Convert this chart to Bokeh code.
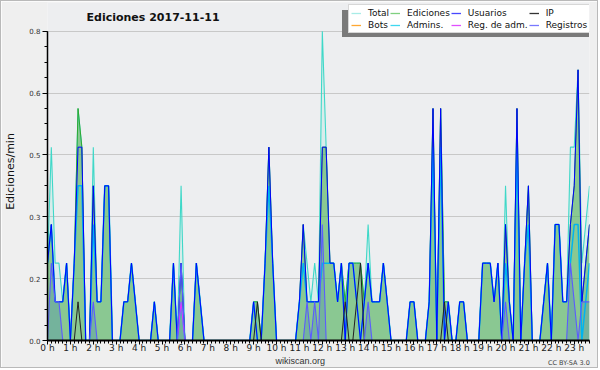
from bokeh.plotting import figure
from bokeh.models import (FixedTicker, Legend, LegendItem, Label, ColumnDataSource,
                          LinearAxis)
from bokeh.embed import file_html
from bokeh.resources import INLINE

# 10-minute slots of the day (index 0 = 00:00)
slots = list(range(143))
hour_ticks = [0, 6, 12, 18, 24, 30, 36, 42, 48, 54, 60, 66, 72, 78, 84, 90,
              96, 102, 108, 114, 120, 126, 132, 138]
hour_labels = ["0 h", "1 h", "2 h", "3 h", "4 h", "5 h", "6 h", "7 h", "8 h",
               "9 h", "10 h", "11 h", "12 h", "13 h", "14 h", "15 h", "16 h",
               "17 h", "18 h", "19 h", "20 h", "21 h", "22 h", "23 h"]
y_ticks = [0.0, 0.16, 0.32, 0.48, 0.64, 0.8]
y_labels = ["0.0", "0.2", "0.3", "0.5", "0.6", "0.8"]

total = [0.2, 0.5, 0.2, 0.2, 0.1, 0.2, 0, 0.2, 0.6, 0.5, 0, 0,
         0.5, 0.1, 0.1, 0.4, 0.4, 0, 0, 0, 0.1, 0.1, 0.2, 0.1,
         0, 0, 0, 0, 0.1, 0, 0, 0, 0, 0.2, 0, 0.4,
         0, 0, 0, 0.2, 0.1, 0, 0, 0, 0, 0, 0, 0,
         0, 0, 0, 0, 0, 0, 0.1, 0.1, 0, 0.2, 0.5, 0.2,
         0, 0, 0, 0, 0, 0, 0.1, 0.3, 0.2, 0.1, 0.2, 0.1,
         0.8, 0.5, 0.2, 0.2, 0.1, 0.2, 0.1, 0.2, 0.2, 0.2, 0.2, 0.1,
         0.3, 0.1, 0.1, 0.1, 0.2, 0.1, 0, 0, 0, 0, 0, 0.1,
         0.1, 0, 0, 0, 0.1, 0.6, 0, 0.6, 0.1, 0.1, 0, 0,
         0.1, 0.1, 0, 0, 0, 0, 0.2, 0.2, 0.2, 0.1, 0.2, 0,
         0.4, 0.1, 0, 0.6, 0, 0.2, 0.4, 0, 0, 0, 0.1, 0.2,
         0, 0.3, 0.3, 0.1, 0.1, 0.5, 0.5, 0.7, 0.2, 0.3, 0.4]
ediciones = [0.2, 0.3, 0.1, 0.1, 0.1, 0.2, 0, 0.2, 0.6, 0.5, 0, 0,
             0.4, 0.1, 0.1, 0.4, 0.4, 0, 0, 0, 0.1, 0.1, 0.2, 0.1,
             0, 0, 0, 0, 0.1, 0, 0, 0, 0, 0.2, 0, 0.2,
             0, 0, 0, 0.2, 0.1, 0, 0, 0, 0, 0, 0, 0,
             0, 0, 0, 0, 0, 0, 0.1, 0.1, 0, 0.2, 0.5, 0.2,
             0, 0, 0, 0, 0, 0, 0.1, 0.3, 0.1, 0.1, 0.1, 0.1,
             0.5, 0.5, 0.2, 0.2, 0.1, 0.2, 0.1, 0.2, 0.2, 0.2, 0.2, 0.1,
             0.2, 0.1, 0.1, 0.1, 0.2, 0.1, 0, 0, 0, 0, 0, 0.1,
             0.1, 0, 0, 0, 0.1, 0.6, 0, 0.6, 0.1, 0.1, 0, 0,
             0.1, 0.1, 0, 0, 0, 0, 0.2, 0.2, 0.2, 0.1, 0.2, 0,
             0.3, 0.1, 0, 0.6, 0, 0.2, 0.4, 0, 0, 0, 0.1, 0.2,
             0, 0.3, 0.3, 0.1, 0.1, 0.3, 0.4, 0.7, 0.1, 0.2, 0.3]
usuarios = [0.2, 0.3, 0.1, 0.1, 0.1, 0.2, 0, 0.2, 0.5, 0.5, 0, 0,
            0.4, 0.1, 0.1, 0.4, 0.4, 0, 0, 0, 0.1, 0.1, 0.2, 0.1,
            0, 0, 0, 0, 0.1, 0, 0, 0, 0, 0.2, 0, 0.2,
            0, 0, 0, 0.2, 0.1, 0, 0, 0, 0, 0, 0, 0,
            0, 0, 0, 0, 0, 0, 0.1, 0, 0, 0.2, 0.5, 0.2,
            0, 0, 0, 0, 0, 0, 0.1, 0.3, 0.1, 0.1, 0.1, 0.1,
            0.5, 0.5, 0.2, 0.2, 0.1, 0.2, 0, 0.2, 0.2, 0.1, 0, 0.1,
            0.2, 0.1, 0.1, 0.1, 0.2, 0.1, 0, 0, 0, 0, 0, 0.1,
            0.1, 0, 0, 0, 0.1, 0.6, 0, 0.6, 0, 0.1, 0, 0,
            0.1, 0.1, 0, 0, 0, 0, 0.2, 0.2, 0.2, 0.1, 0.2, 0,
            0.3, 0.1, 0, 0.6, 0, 0.2, 0.4, 0, 0, 0, 0.1, 0.2,
            0, 0.3, 0.3, 0.1, 0.1, 0.3, 0.4, 0.7, 0.1, 0.2, 0.3]
ip = [0, 0, 0, 0, 0, 0, 0, 0, 0.1, 0, 0, 0,
      0, 0, 0, 0, 0, 0, 0, 0, 0, 0, 0, 0,
      0, 0, 0, 0, 0, 0, 0, 0, 0, 0, 0, 0,
      0, 0, 0, 0, 0, 0, 0, 0, 0, 0, 0, 0,
      0, 0, 0, 0, 0, 0, 0, 0.1, 0, 0, 0, 0,
      0, 0, 0, 0, 0, 0, 0, 0, 0, 0, 0, 0,
      0, 0, 0, 0, 0, 0, 0.1, 0, 0, 0.1, 0.2, 0,
      0, 0, 0, 0, 0, 0, 0, 0, 0, 0, 0, 0,
      0, 0, 0, 0, 0, 0, 0, 0, 0.1, 0, 0, 0,
      0, 0, 0, 0, 0, 0, 0, 0, 0, 0, 0, 0,
      0, 0, 0, 0, 0, 0, 0, 0, 0, 0, 0, 0,
      0, 0, 0, 0, 0, 0, 0, 0, 0, 0, 0]
bots = [0] * 143
admins = [0.2, 0.3, 0.1, 0.1, 0.1, 0.2, 0, 0.2, 0.4, 0.4, 0, 0,
          0.3, 0.1, 0.1, 0.4, 0.4, 0, 0, 0, 0.1, 0.1, 0.2, 0.1,
          0, 0, 0, 0, 0.1, 0, 0, 0, 0, 0.2, 0, 0.1,
          0, 0, 0, 0.2, 0.1, 0, 0, 0, 0, 0, 0, 0,
          0, 0, 0, 0, 0, 0, 0.1, 0, 0, 0.2, 0.4, 0.2,
          0, 0, 0, 0, 0, 0, 0.1, 0.2, 0.1, 0.1, 0.1, 0.1,
          0.2, 0.2, 0.2, 0.2, 0.1, 0.2, 0, 0.2, 0.2, 0.1, 0, 0.1,
          0.2, 0.1, 0.1, 0.1, 0.2, 0.1, 0, 0, 0, 0, 0, 0.1,
          0.1, 0, 0, 0, 0.1, 0.5, 0, 0.5, 0, 0.1, 0, 0,
          0.1, 0.1, 0, 0, 0, 0, 0.2, 0.2, 0.2, 0.1, 0.2, 0,
          0.2, 0.1, 0, 0.5, 0, 0.2, 0.3, 0, 0, 0, 0.1, 0.2,
          0, 0.3, 0.3, 0.1, 0.1, 0.2, 0.3, 0.3, 0, 0.1, 0.2]
reg_adm = [0, 0, 0, 0, 0, 0, 0, 0, 0, 0, 0, 0,
           0, 0, 0, 0, 0, 0, 0, 0, 0, 0, 0, 0,
           0, 0, 0, 0, 0, 0, 0, 0, 0, 0, 0, 0.1,
           0, 0, 0, 0, 0, 0, 0, 0, 0, 0, 0, 0,
           0, 0, 0, 0, 0, 0, 0, 0, 0, 0, 0, 0,
           0, 0, 0, 0, 0, 0, 0, 0, 0, 0, 0, 0,
           0, 0, 0, 0, 0, 0, 0, 0, 0, 0, 0, 0,
           0, 0, 0, 0, 0, 0, 0, 0, 0, 0, 0, 0,
           0, 0, 0, 0, 0, 0, 0, 0, 0, 0, 0, 0,
           0, 0, 0, 0, 0, 0, 0, 0, 0, 0, 0, 0,
           0, 0, 0, 0, 0, 0, 0, 0, 0, 0, 0, 0,
           0, 0, 0, 0, 0, 0, 0, 0, 0, 0, 0]
registros = [0, 0.2, 0.1, 0.1, 0, 0, 0, 0, 0, 0, 0, 0,
             0.1, 0, 0, 0, 0, 0, 0, 0, 0, 0, 0, 0,
             0, 0, 0, 0, 0, 0, 0, 0, 0, 0, 0, 0.2,
             0, 0, 0, 0, 0, 0, 0, 0, 0, 0, 0, 0,
             0, 0, 0, 0, 0, 0, 0, 0, 0, 0, 0, 0,
             0, 0, 0, 0, 0, 0, 0, 0, 0.1, 0, 0.1, 0,
             0.3, 0, 0, 0, 0, 0, 0, 0, 0, 0, 0, 0,
             0.1, 0, 0, 0, 0, 0, 0, 0, 0, 0, 0, 0,
             0, 0, 0, 0, 0, 0, 0, 0, 0, 0, 0, 0,
             0, 0, 0, 0, 0, 0, 0, 0, 0, 0, 0, 0,
             0.1, 0, 0, 0, 0, 0, 0, 0, 0, 0, 0, 0,
             0, 0, 0, 0, 0, 0.2, 0.1, 0, 0.1, 0.1, 0.1]

series_names = ["Total", "Ediciones", "Usuarios", "IP", "Bots", "Admins.",
                "Reg. de adm.", "Registros"]
credit_texts = ["wikiscan.org", "CC BY-SA 3.0"]

src = ColumnDataSource(dict(x=slots, total=total, ediciones=ediciones,
                            usuarios=usuarios, ip=ip, bots=bots,
                            admins=admins, reg_adm=reg_adm,
                            registros=registros))
# proxy source for the key samples (no visible points)
key_src = ColumnDataSource(dict(x=[0, 1], y=[float("nan"), float("nan")]))

FONT = "DejaVu Sans"
Y_TOP = 0.8 * 342 / 313   # frame extends above 0.8 to hold title and key

p = figure(width=598, height=368, x_range=(0, 142), y_range=(0, Y_TOP),
           output_backend="svg", toolbar_location=None,
           min_border_left=45, min_border_right=10,
           min_border_top=1, min_border_bottom=25)
p.styles = {"border": "1px solid #b9b9b9"}
p.background_fill_color = "#edeef0"
p.border_fill_color = "#efefef"
p.outline_line_color = None

# fills
p.varea(x="x", y1=0, y2="total", source=src, fill_color="#40e0d0", fill_alpha=0.12)
p.varea(x="x", y1=0, y2="ediciones", source=src, fill_color="#4aab49", fill_alpha=0.55)
p.varea(x="x", y1=0, y2="registros", source=src, fill_color="#4a8cb0", fill_alpha=0.35)

# lines
p.line("x", "total", source=src, line_color="#3fd8c8", line_width=1.1)
p.line("x", "ediciones", source=src, line_color="#2fa82f", line_width=1)
p.line("x", "admins", source=src, line_color="#00b4ee", line_width=1.5)
p.line("x", "usuarios", source=src, line_color="#0000ff", line_width=1.0)
p.line("x", "ip", source=src, line_color="#222222", line_width=1)
p.line("x", "bots", source=src, line_color="#ffa500", line_width=1)
p.line("x", "reg_adm", source=src, line_color="#dd33ff", line_width=1.1)
p.line("x", "registros", source=src, line_color="#5b5bff", line_width=1.1)

# axes
p.xgrid.visible = False
p.ygrid.ticker = FixedTicker(ticks=y_ticks)
p.ygrid.grid_line_color = "#c8c8c8"
p.ygrid.grid_line_width = 1

xa = p.xaxis[0]
xa.ticker = FixedTicker(ticks=hour_ticks, minor_ticks=slots)
xa.major_label_overrides = dict(zip(hour_ticks, hour_labels))
xa.axis_line_width = 2
xa.axis_line_color = "black"
xa.major_tick_in = 0
xa.major_tick_out = 4
xa.minor_tick_in = 0
xa.minor_tick_out = 3
xa.major_tick_line_color = "black"
xa.minor_tick_line_color = "black"
xa.major_label_text_font = FONT
xa.major_label_text_font_size = "9px"
xa.major_label_text_color = "#222222"
xa.major_label_standoff = -2

# credits row under the hour labels
credit_pos = [66.2, 136.6]
ca = LinearAxis(ticker=FixedTicker(ticks=[credit_pos[0]], minor_ticks=[]),
                major_label_overrides={credit_pos[0]: credit_texts[0]},
                axis_line_color=None, major_tick_line_color=None,
                minor_tick_line_color=None, major_tick_in=0, major_tick_out=0,
                minor_tick_in=0, minor_tick_out=0, major_label_standoff=0,
                major_label_text_font="Liberation Sans",
                major_label_text_font_size="9px",
                major_label_text_color="#333333")
p.add_layout(ca, "below")
cc = LinearAxis(ticker=FixedTicker(ticks=[credit_pos[1]], minor_ticks=[]),
                major_label_overrides={credit_pos[1]: credit_texts[1]},
                axis_line_color=None, major_tick_line_color=None,
                minor_tick_line_color=None, major_tick_in=0, major_tick_out=0,
                minor_tick_in=0, minor_tick_out=0, major_label_standoff=-10,
                major_label_text_font=FONT,
                major_label_text_font_size="6.5px",
                major_label_text_color="#444444")
p.add_layout(cc, "below")

ya = p.yaxis[0]
ya.ticker = FixedTicker(ticks=y_ticks, minor_ticks=[0.04 * k for k in range(21)])
ya.bounds = (0, 0.8)
ya.major_label_overrides = dict(zip(y_ticks, y_labels))
ya.axis_line_width = 1.5
ya.axis_line_color = "black"
ya.major_tick_in = 0
ya.major_tick_out = 5
ya.minor_tick_in = 0
ya.minor_tick_out = 3
ya.major_tick_line_color = "black"
ya.minor_tick_line_color = "black"
ya.major_label_text_font = FONT
ya.major_label_text_font_size = "7px"
ya.major_label_text_color = "#333333"
ya.major_label_standoff = 2
ya.axis_label = "Ediciones/min"
ya.axis_label_text_font = FONT
ya.axis_label_text_font_size = "11px"
ya.axis_label_text_font_style = "normal"
ya.axis_label_text_color = "#111111"
ya.axis_label_standoff = 9

# title (inside the extended frame)
p.add_layout(Label(x=39, y=323, x_units="screen", y_units="screen",
                   text="Ediciones  2017-11-11", text_font=FONT,
                   text_font_size="11px", text_font_style="bold",
                   text_color="#111111", text_baseline="alphabetic"))

# key with shadow
key_colors = ["#a8ece6", "#80d080", "#4848ff", "#333333", "#ffa833", "#40d8f0",
              "#e050ff", "#7878ff"]
items = []
for name, col in zip(series_names, key_colors):
    r = p.line("x", "y", source=key_src, line_color=col, line_width=1.3)
    items.append(LegendItem(label=name, renderers=[r]))

shadow_r = p.line("x", "y", source=key_src, line_alpha=0)
shadow = Legend(items=[LegendItem(label=" ", renderers=[shadow_r])],
                location=(295, 303), padding=0, margin=0, spacing=0,
                glyph_width=1, glyph_height=27, label_standoff=0,
                label_width=248, label_height=27,
                background_fill_color="#7a7a7a", background_fill_alpha=1,
                border_line_color=None, label_text_font_size="1px")
p.add_layout(shadow, "center")

legend = Legend(items=items, orientation="horizontal", nrows=2,
                location=(301, 307), padding=2, margin=0, spacing=1,
                glyph_width=10, glyph_height=10, label_standoff=7,
                label_height=11,
                label_text_font=FONT, label_text_font_size="9px",
                label_text_color="#111111",
                background_fill_color="white", background_fill_alpha=1,
                border_line_color="#b0b0b0", border_line_width=1)
p.add_layout(legend, "center")

open("out.html", "w").write(file_html(p, INLINE))
